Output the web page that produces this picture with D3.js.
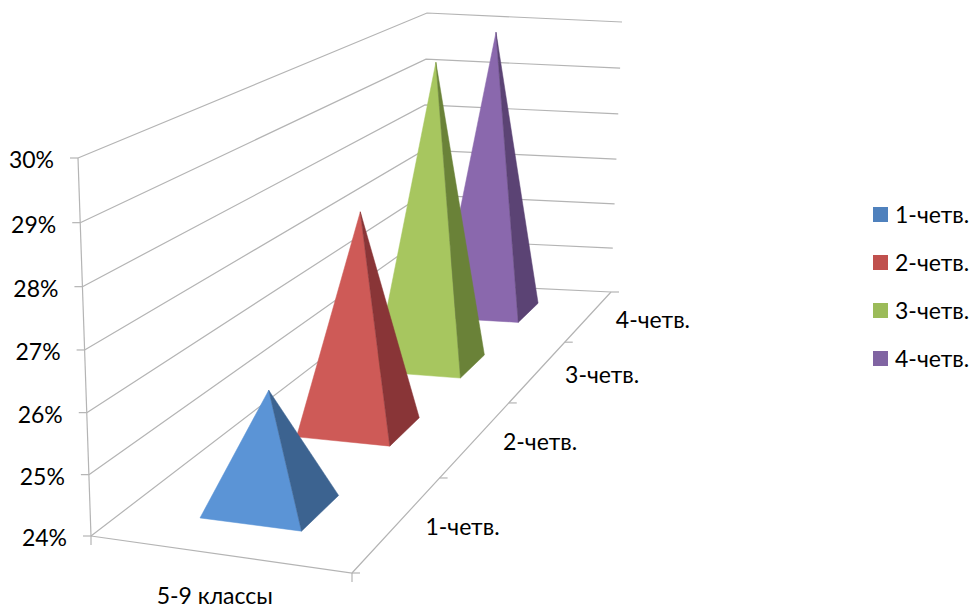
<!DOCTYPE html>
<html><head><meta charset="utf-8">
<script src="https://cdnjs.cloudflare.com/ajax/libs/d3/7.8.5/d3.min.js"></script>
<style>html,body{margin:0;padding:0;background:#fff}svg{display:block}text{font-family:Lato,"Open Sans",sans-serif;fill:#000}</style>
</head><body><svg id="c" width="974" height="609"></svg>
<script>
const seriesNames = ["1-четв.","2-четв.","3-четв.","4-четв."];
const values = [25.97, 27.96, 29.96, 29.96];
const category = ["5-9 классы"];
const yTicks = [24,25,26,27,28,29,30];
const legendColors = ["#4F81BD","#C0504D","#9BBB59","#8064A2"];
const frontColors = ["#5B94D6","#CE5A57","#A7C65F","#8A68AD"];
const sideColors = ["#3C6390","#893537","#6A8238","#5B4374"];
const floorQuad = [[91,536],[352,573],[611,292],[421,283]];
const ceilQuad = [[78,158],[352,190],[622,22],[427,13]];
const barHalfU = 0.2, barHalfD = 0.049, barCenterU = 0.505, persp = 1.032;

function homog(q){
  const [[x0,y0],[x1,y1],[x2,y2],[x3,y3]] = q;
  const dx1=x1-x2,dx2=x3-x2,sx=x0-x1+x2-x3,dy1=y1-y2,dy2=y3-y2,sy=y0-y1+y2-y3;
  const den=dx1*dy2-dx2*dy1;
  const g=(sx*dy2-dx2*sy)/den,h=(dx1*sy-sx*dy1)/den;
  const a=x1-x0+g*x1,b=x3-x0+h*x3,c=x0,d=y1-y0+g*y1,e=y3-y0+h*y3,f=y0;
  return (u,v)=>{const w=g*u+h*v+1;return [(a*u+b*v+c)/w,(d*u+e*v+f)/w];};
}
const floor=homog(floorQuad), ceil=homog(ceilQuad);
const yS=d3.scaleLinear().domain([24,30]).range([0,1]);
const dS=d3.scaleBand().domain(seriesNames).range([0,1]);
function P(u,d,val){const a=floor(u,d),b=ceil(u,d),r=yS(val),t=r/(persp-(persp-1)*r);return [a[0]+(b[0]-a[0])*t,a[1]+(b[1]-a[1])*t];}

const svg=d3.select("#c");
const grid="#b4b4b4", line=d3.line();
const g=svg.append("g").attr("fill","none").attr("stroke",grid).attr("stroke-width",1.2);
yTicks.forEach(v=>{
  g.append("path").attr("d",line([P(0,0,v),P(0,1,v),P(1,1,v)]));
  const p=P(0,0,v);
  g.append("path").attr("d",line([[p[0]-8,p[1]],p]));
});
g.append("path").attr("d",line([P(0,0,24),P(0,0,30)]));
g.append("path").attr("d",line([P(0,0,24),P(1,0,24),P(1,1,24)]));
const fl=P(0,0,24),fr=P(1,0,24);
g.append("path").attr("d",line([fl,[fl[0],fl[1]+9]]));
g.append("path").attr("d",line([fr,[fr[0],fr[1]+9]]));
[0,...seriesNames.map(s=>dS(s)+dS.bandwidth())].forEach(d=>{
  const p=P(1,d,24);
  g.append("path").attr("d",line([p,[p[0]+8,p[1]]]));
});
d3.range(seriesNames.length-1,-1,-1).forEach(i=>{
  const s=seriesNames[i], c=dS(s)+dS.bandwidth()/2, v=values[i];
  const FL=P(barCenterU-barHalfU,c-barHalfD,24),FR=P(barCenterU+barHalfU,c-barHalfD,24),BR=P(barCenterU+barHalfU,c+barHalfD,24),A=P(barCenterU,c,v);
  svg.append("path").attr("d",line([FL,FR,A])+"Z").attr("fill",frontColors[i]).attr("stroke",frontColors[i]).attr("stroke-width",.5);
  svg.append("path").attr("d",line([FR,BR,A])+"Z").attr("fill",sideColors[i]).attr("stroke",sideColors[i]).attr("stroke-width",.5);
});
const fs=23;
yTicks.forEach(v=>{
  const p=P(0,0,v);
  svg.append("text").attr("x",p[0]-24).attr("y",p[1]+10).attr("text-anchor","end").attr("font-size",fs).text(v+"%");
});
seriesNames.forEach(s=>{
  const p=P(1,dS(s)+dS.bandwidth()/2,24);
  svg.append("text").attr("x",p[0]+64).attr("y",p[1]+12).attr("text-anchor","middle").attr("font-size",fs).text(s);
});
const m=P(.5,0,24);
svg.append("text").attr("x",m[0]-1).attr("y",m[1]+50).attr("text-anchor","middle").attr("font-size",fs).text(category[0]);
const ly=d3.scalePoint().domain(seriesNames).range([214.5,358.5]);
seriesNames.forEach((s,i)=>{
  svg.append("rect").attr("x",873).attr("y",ly(s)-7.5).attr("width",15).attr("height",15).attr("fill",legendColors[i]);
  svg.append("text").attr("x",895).attr("y",ly(s)+8).attr("font-size",fs).text(s);
});
</script></body></html>
